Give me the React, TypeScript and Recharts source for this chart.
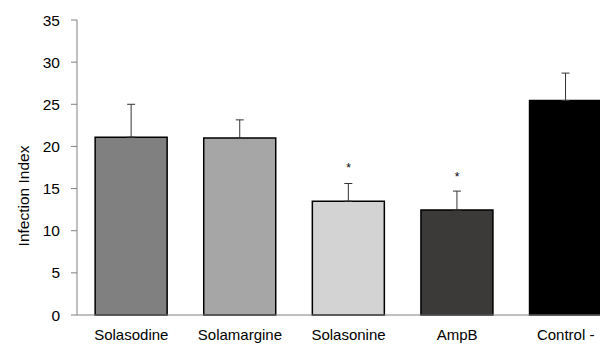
import React from 'react';
import { ComposedChart, Bar, Line, Cell, XAxis, YAxis, ErrorBar } from 'recharts';

const categories = ['Solasodine', 'Solamargine', 'Solasonine', 'AmpB', 'Control -'];
const values = [21.1, 21.0, 13.5, 12.45, 25.45];
const errors = [3.9, 2.15, 2.1, 2.25, 3.25];
const stars = [null, null, 17.4, 16.4, null];
const COLORS = ['#808080', '#a6a6a6', '#d3d3d3', '#3b3a38', '#000000'];

const data = categories.map((name, i) => ({
  name,
  value: values[i],
  err: [0, errors[i]],
  star: stars[i],
}));

const font = 'Liberation Sans, Arial, Helvetica, sans-serif';

const StarDot = (props: any) => {
  const { cx, cy, payload } = props;
  if (payload.star == null) return null;
  return (
    <text x={cx} y={cy + 4} textAnchor="middle" fontSize={12} fontFamily={font} fill="#000">*</text>
  );
};

// axis title, placed like the original (a bit below the plot's middle)
const YTitle = () => (
  <text
    x={15.5}
    y={188}
    transform="rotate(-90, 15.5, 188)"
    textAnchor="middle"
    dominantBaseline="central"
    fontSize={15.5}
    fontFamily={font}
    fill="#000"
  >
    Infection Index
  </text>
);

const App: React.FC = () => {
  return (
    <div style={{ width: 595, height: 336, overflow: 'hidden' }}>
      <ComposedChart
        width={612}
        height={336}
        data={data}
        margin={{ top: 12, right: 0, bottom: 0, left: 0 }}
        barCategoryGap="16.7%"
      >
        <XAxis
          dataKey="name"
          tickLine={false}
          stroke="#808080"
          height={29}
          tickMargin={8}
          tick={{ fill: '#000', fontSize: 15, fontFamily: font }}
        />
        <YAxis
          domain={[0, 35]}
          ticks={[0, 5, 10, 15, 20, 25, 30, 35]}
          width={69}
          stroke="#808080"
          tickSize={6}
          tickMargin={11}
          tick={{ fill: '#000', fontSize: 15.5, fontFamily: font }}
          label={{ content: <YTitle /> }}
        />
        <Bar dataKey="value" stroke="#000" strokeWidth={1.5} isAnimationActive={false}>
          {data.map((_, i) => <Cell key={i} fill={COLORS[i]} />)}
          <ErrorBar dataKey="err" width={4} stroke="#333" strokeWidth={1} />
        </Bar>
        <Line dataKey="star" stroke="none" dot={<StarDot />} activeDot={false} isAnimationActive={false} />
      </ComposedChart>
    </div>
  );
};

export default App;
